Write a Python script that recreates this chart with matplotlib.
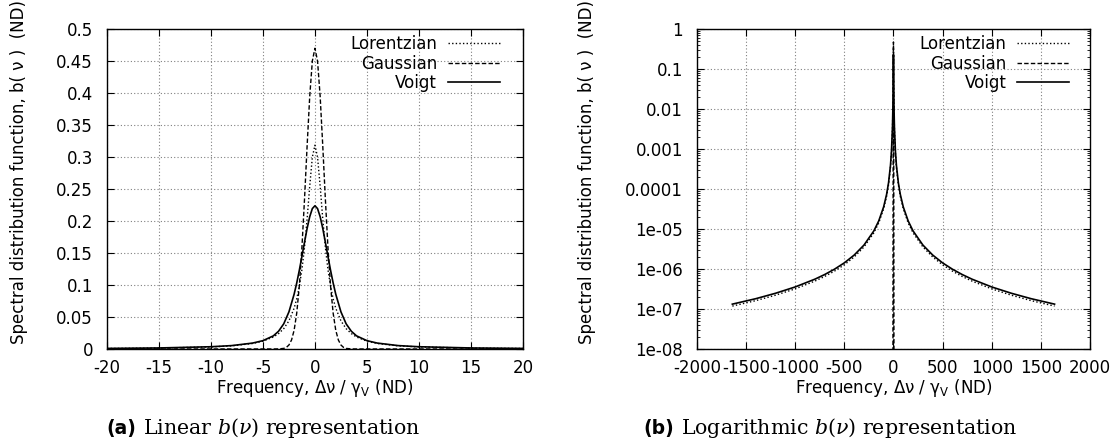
import numpy as np
import matplotlib
matplotlib.use("Agg")
import matplotlib.pyplot as plt
from matplotlib.ticker import LogLocator, NullFormatter
from matplotlib.offsetbox import TextArea, HPacker, AnchoredOffsetbox

# ---- data (positive half, curves are symmetric) ----
lin_x = [0, 0.25, 0.5, 0.75, 1, 1.25, 1.5, 1.75, 2, 2.5, 3, 3.5, 4, 5, 6, 8, 10, 15, 20]
lin_lorentz = [0.3183, 0.2996, 0.2546, 0.2037, 0.1592, 0.1242, 0.0979, 0.0784, 0.0637,
               0.0439, 0.0318, 0.0240, 0.0187, 0.0122, 0.0086, 0.0049, 0.0032, 0.0014, 0.0008]
lin_voigt = [0.2237, 0.2193, 0.2067, 0.1885, 0.1670, 0.1447, 0.1231, 0.1032, 0.0857,
             0.0580, 0.0393, 0.0277, 0.0205, 0.0130, 0.0092, 0.0053, 0.0035, 0.0016, 0.0009]
gauss_x = [0, 0.25, 0.5, 0.75, 1, 1.25, 1.5, 1.75, 2, 2.25, 2.5, 2.75, 3, 3.5, 4, 20]
lin_gauss = [0.4697, 0.4498, 0.3950, 0.3180, 0.2349, 0.1590, 0.0987, 0.0562, 0.0294,
             0.0141, 0.0062, 0.0025, 0.0009, 0.0001, 0.0, 0.0]

log_x = [0, 1, 2, 5, 10, 20, 30, 50, 70, 100, 150, 200, 300, 400, 500, 600, 700, 800,
         1000, 1200, 1400, 1640]
log_lorentz = [0.3183, 0.1592, 0.06366, 0.01224, 3.15e-3, 7.94e-4, 3.53e-4, 1.27e-4,
               6.50e-5, 3.18e-5, 1.41e-5, 7.96e-6, 3.54e-6, 1.99e-6, 1.27e-6, 8.84e-7,
               6.50e-7, 4.97e-7, 3.18e-7, 2.21e-7, 1.62e-7, 1.18e-7]
log_voigt = [0.2237, 0.1670, 0.0857, 0.0130, 3.46e-3, 8.83e-4, 3.94e-4, 1.42e-4,
             7.25e-5, 3.55e-5, 1.58e-5, 8.89e-6, 3.95e-6, 2.22e-6, 1.42e-6, 9.87e-7,
             7.25e-7, 5.55e-7, 3.55e-7, 2.47e-7, 1.81e-7, 1.32e-7]
log_gauss_x = [0, 1, 2, 3, 4, 5, 6]
log_gauss = [0.4697, 0.2349, 0.0294, 9.2e-4, 7.1e-6, 1.4e-8, 6.8e-12]

lin_xticks = [-20, -15, -10, -5, 0, 5, 10, 15, 20]
lin_yticks = [0, 0.05, 0.1, 0.15, 0.2, 0.25, 0.3, 0.35, 0.4, 0.45, 0.5]
lin_ylabels = ['0', '0.05', '0.1', '0.15', '0.2', '0.25', '0.3', '0.35', '0.4', '0.45', '0.5']
log_xticks = [-2000, -1500, -1000, -500, 0, 500, 1000, 1500, 2000]
log_yticks = [1e-8, 1e-7, 1e-6, 1e-5, 1e-4, 1e-3, 1e-2, 1e-1, 1]
log_ylabels = ['1e-08', '1e-07', '1e-06', '1e-05', '0.0001', '0.001', '0.01', '0.1', '1']

names = ['Lorentzian', 'Gaussian', 'Voigt']


def mirror(x, y):
    x = np.asarray(x, float)
    y = np.asarray(y, float)
    return np.concatenate([-x[::-1], x[1:]]), np.concatenate([y[::-1], y[1:]])


plt.rcParams['font.family'] = ['DejaVu Sans']
plt.rcParams['axes.unicode_minus'] = False
fs = 12

dot = (0, (1, 1.6))
dash = (0, (3.2, 1.6))

fig = plt.figure(figsize=(11.18, 4.44), dpi=100)
ax1 = fig.add_axes([0.0957, 0.214, 0.372, 0.721])
ax2 = fig.add_axes([0.6234, 0.214, 0.3515, 0.721])


def style(ax):
    for s in ax.spines.values():
        s.set_linewidth(1.0)
    ax.tick_params(which='major', direction='in', top=True, right=True, length=5,
                   width=0.8, labelsize=fs)
    ax.tick_params(axis='x', pad=7)
    ax.tick_params(axis='y', pad=10)
    ax.grid(True, color='0.5', linestyle=(0, (1, 2)), linewidth=0.8)
    ax.set_axisbelow(True)


# (a) linear
x, y = mirror(lin_x, lin_lorentz)
ax1.plot(x, y, color='black', lw=1.0, ls=dot, label=names[0])
x, y = mirror(gauss_x, lin_gauss)
ax1.plot(x, y, color='black', lw=1.0, ls=dash, label=names[1])
x, y = mirror(lin_x, lin_voigt)
ax1.plot(x, y, color='black', lw=1.2, ls='-', label=names[2])
ax1.set_xlim(-20, 20)
ax1.set_ylim(0, 0.5)
ax1.set_xticks(lin_xticks)
ax1.set_yticks(lin_yticks)
ax1.set_yticklabels(lin_ylabels)
style(ax1)

# (b) logarithmic
x, y = mirror(log_x, log_lorentz)
ax2.plot(x, y, color='black', lw=1.0, ls=dot, label=names[0])
x, y = mirror(log_gauss_x, log_gauss)
ax2.plot(x, y, color='black', lw=1.0, ls=dash, label=names[1])
x, y = mirror(log_x, log_voigt)
ax2.plot(x, y, color='black', lw=1.2, ls='-', label=names[2])
ax2.set_yscale('log')
ax2.set_xlim(-2000, 2000)
ax2.set_ylim(1e-8, 1)
ax2.set_xticks(log_xticks)
ax2.set_yticks(log_yticks)
ax2.set_yticklabels(log_ylabels)
ax2.yaxis.set_minor_locator(LogLocator(base=10, subs=np.arange(2, 10)))
ax2.yaxis.set_minor_formatter(NullFormatter())
ax2.tick_params(which='minor', direction='in', right=True, length=2.5, width=0.6)
style(ax2)

ylab = 'Spectral distribution function, b( ν )  (ND)'
xlab = 'Frequency, Δν / γ$_\\mathrm{V}$ (ND)'
for ax, lx, leg_x in ((ax1, -0.19, 0.9447), (ax2, -0.257, 0.9466)):
    ax.set_ylabel(ylab, fontsize=fs)
    ax.yaxis.set_label_coords(lx, 0.553)
    ax.set_xlabel(xlab, fontsize=fs)
    ax.xaxis.set_label_coords(0.5, -0.088)
    ax.legend(loc='upper right', bbox_to_anchor=(leg_x, 0.981), frameon=False,
              markerfirst=False, fontsize=fs, handlelength=3.1, handletextpad=0.66,
              labelspacing=0.1, borderaxespad=0, borderpad=0)


def caption(tag, rest, xc, yc):
    t1 = TextArea(tag, textprops=dict(family='DejaVu Sans', weight='bold', size=13.5))
    t2 = TextArea(rest, textprops=dict(family='DejaVu Serif', size=14.8,
                                       math_fontfamily='dejavuserif'))
    box = HPacker(children=[t1, t2], align='baseline', pad=0, sep=5)
    ab = AnchoredOffsetbox(loc='center', child=box, pad=0, borderpad=0, frameon=False,
                           bbox_to_anchor=(xc, yc), bbox_transform=fig.transFigure)
    fig.add_artist(ab)


caption('(a)', 'Linear $b(\\nu)$ representation', 0.2352, 0.036)
caption('(b)', 'Logarithmic $b(\\nu)$ representation', 0.7424, 0.036)

fig.savefig('out.png', dpi=100)
